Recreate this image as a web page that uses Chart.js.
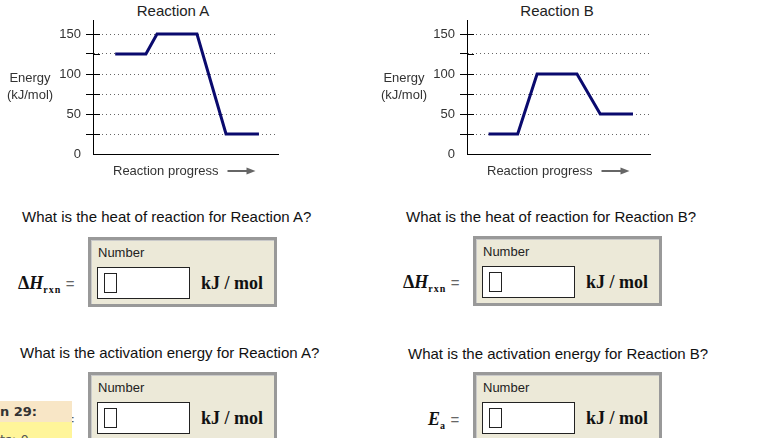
<!DOCTYPE html>
<html>
<head>
<meta charset="utf-8">
<script src="https://cdn.jsdelivr.net/npm/chart.js@4/dist/chart.umd.min.js"></script>
<style>
body { margin:0; width:757px; height:438px; overflow:hidden; background:#fff; position:relative;
       font-family: Arial, "Liberation Sans", sans-serif; }
canvas { position:absolute; top:0; }
.ttl { position:absolute; top:3px; width:140px; text-align:center; font-size:15px; line-height:16px; color:#222; }
.q { position:absolute; font-size:15px; line-height:18px; color:#111; white-space:nowrap; }
.box { position:absolute; width:183px; height:64px; background:#ece9d8; border:3px solid #999;
       box-shadow: inset 1px 1px 0 #c9c9c9; }
.box .num { position:absolute; left:7px; top:5px; font-size:13px; line-height:15px; color:#222; }
.box .inp { position:absolute; left:6px; top:27px; width:91px; height:30px; background:#fff; border:1px solid #222; }
.box .cur { position:absolute; left:6px; top:5px; width:11px; height:18px; border:1px solid #222; }
.box .unit { position:absolute; left:110px; top:33px; font:bold 18px "Liberation Serif", "Times New Roman", serif; line-height:20px; color:#111; }
.lbl { position:absolute; font:bold 18px "Liberation Serif", "Times New Roman", serif; line-height:20px; color:#111; white-space:nowrap; }
.lbl sub { font-size:10px; vertical-align:-4px; letter-spacing:1px; }
.lbl .eq { font-weight:normal; color:#666; font-family: Arial, "Liberation Sans", sans-serif; font-size:15px; }
.side1 { position:absolute; left:0; top:401px; width:72px; height:21px; background:#f8e6c6; z-index:5;
         font:bold 13px "DejaVu Sans", sans-serif; color:#333; line-height:21px; }
.side2 { position:absolute; left:0; top:422px; width:72px; height:16px; background:#fff59a; z-index:5; overflow:hidden; }
.side2 span { position:absolute; left:0; top:10px; font:13px "DejaVu Sans", sans-serif; color:#555; }
</style>
</head>
<body>

<div class="ttl" style="left:103px">Reaction A</div>
<div class="ttl" style="left:487px">Reaction B</div>
<canvas id="chartA" width="285" height="185" style="left:0px"></canvas>
<canvas id="chartB" width="285" height="185" style="left:370px"></canvas>

<div class="q" style="left:22px;top:208px">What is the heat of reaction for Reaction A?</div>
<div class="q" style="left:406px;top:208px">What is the heat of reaction for Reaction B?</div>
<div class="q" style="left:20px;top:344px">What is the activation energy for Reaction A?</div>
<div class="q" style="left:408px;top:345px">What is the activation energy for Reaction B?</div>

<div class="lbl" style="left:18px;top:273px">Δ<i>H</i><sub>rxn</sub> <span class="eq">=</span></div>
<div class="box" style="left:88px;top:237px">
  <div class="num">Number</div>
  <div class="inp"><div class="cur"></div></div>
  <div class="unit">kJ / mol</div>
</div>

<div class="lbl" style="left:403px;top:272px">Δ<i>H</i><sub>rxn</sub> <span class="eq">=</span></div>
<div class="box" style="left:473px;top:236px">
  <div class="num">Number</div>
  <div class="inp"><div class="cur"></div></div>
  <div class="unit">kJ / mol</div>
</div>

<div class="lbl" style="left:43px;top:409px"><i>E</i><sub>a</sub> <span class="eq">=</span></div>
<div class="box" style="left:88px;top:372px">
  <div class="num">Number</div>
  <div class="inp"><div class="cur"></div></div>
  <div class="unit">kJ / mol</div>
</div>

<div class="lbl" style="left:428px;top:409px"><i>E</i><sub>a</sub> <span class="eq">=</span></div>
<div class="box" style="left:473px;top:372px">
  <div class="num">Number</div>
  <div class="inp"><div class="cur"></div></div>
  <div class="unit">kJ / mol</div>
</div>

<div class="side1">n 29:</div>
<div class="side2"><span>ts: 0</span></div>

<script>
// 数据
const progressA = [12, 28.6, 34.6, 56.2, 71.9, 89.7];
const energyA = [125, 125, 150, 150, 25, 25];
const progressB = [11.8, 27.7, 38.3, 60.1, 72.8, 90.7];
const energyB = [25, 25, 100, 100, 50, 50];
const yLabelTicks = [0, 50, 100, 150];
const yStep = 25;
const yMax = 167.5;
const xTitle = 'Reaction progress';
const yTitle = ['Energy', '(kJ/mol)'];

const lineColor = '#0a0a6e';
const textFont = '13px Arial, "Liberation Sans", sans-serif';

// 坐标轴文字和箭头
const decorPlugin = {
    id: 'decor',
    afterDraw(chart) {
        const { ctx, chartArea, scales: { y } } = chart;
        ctx.save();
        // 刻度线在图内的实线部分
        ctx.strokeStyle = '#000';
        ctx.lineWidth = 1;
        y.ticks.forEach(t => {
            if (t.value === 0) return;
            const py = Math.round(y.getPixelForValue(t.value)) + 0.5;
            ctx.beginPath();
            ctx.moveTo(chartArea.left, py);
            ctx.lineTo(chartArea.left + 7, py);
            ctx.stroke();
        });

        ctx.fillStyle = '#333';
        ctx.font = textFont;
        ctx.textAlign = 'center';
        ctx.textBaseline = 'middle';
        const cy = (chartArea.top + chartArea.bottom) / 2;
        yTitle.forEach((s, i) => ctx.fillText(s, chartArea.left - 63, cy + (i - 0.5) * 17));

        ctx.textAlign = 'left';
        const tx = chartArea.left + 20;
        const ty = chartArea.bottom + 17;
        ctx.fillText(xTitle, tx, ty);
        const ax = tx + ctx.measureText(xTitle).width + 9;
        ctx.strokeStyle = '#666';
        ctx.fillStyle = '#666';
        ctx.lineWidth = 2;
        ctx.beginPath();
        ctx.moveTo(ax, ty);
        ctx.lineTo(ax + 20, ty);
        ctx.stroke();
        ctx.beginPath();
        ctx.moveTo(ax + 28, ty);
        ctx.lineTo(ax + 19, ty - 3.5);
        ctx.lineTo(ax + 19, ty + 3.5);
        ctx.closePath();
        ctx.fill();
        ctx.restore();
    }
};

function makeChart(id, xs, ys, axisWidth, padRight) {
    const ctx = document.getElementById(id).getContext('2d');
    return new Chart(ctx, {
        type: 'line',
        data: {
            datasets: [{
                data: xs.map((x, i) => ({ x: x, y: ys[i] })),
                borderColor: lineColor,
                borderWidth: 3,
                pointRadius: 0,
                tension: 0,
                fill: false
            }]
        },
        options: {
            responsive: false,
            animation: false,
            devicePixelRatio: 1,
            layout: { padding: { top: 20, right: padRight, left: 0, bottom: 0 } },
            plugins: { legend: { display: false }, tooltip: { enabled: false } },
            scales: {
                x: {
                    type: 'linear',
                    min: 0,
                    max: 100,
                    ticks: { display: false },
                    grid: { display: false, drawTicks: false },
                    border: { display: true, color: '#000', width: 1 },
                    afterFit: s => { s.height = 31; }
                },
                y: {
                    min: 0,
                    max: yMax,
                    ticks: {
                        stepSize: yStep,
                        includeBounds: false,
                        padding: 5,
                        color: '#333',
                        font: { size: 13, family: 'Arial, "Liberation Sans", sans-serif' },
                        callback: v => yLabelTicks.includes(v) ? v : ''
                    },
                    grid: {
                        color: c => c.tick && c.tick.value === 0 ? 'rgba(0,0,0,0)' : '#666',
                        tickColor: c => c.tick && c.tick.value === 0 ? 'rgba(0,0,0,0)' : '#000',
                        tickLength: 7,
                        tickBorderDash: [],
                        lineWidth: 1
                    },
                    border: { display: true, color: '#000', width: 1, dash: [1, 3] },
                    afterFit: s => { s.width = axisWidth; }
                }
            }
        },
        plugins: [decorPlugin]
    });
}

makeChart('chartA', progressA, energyA, 93, 7);
makeChart('chartB', progressB, energyB, 97, 5);
</script>
</body>
</html>
